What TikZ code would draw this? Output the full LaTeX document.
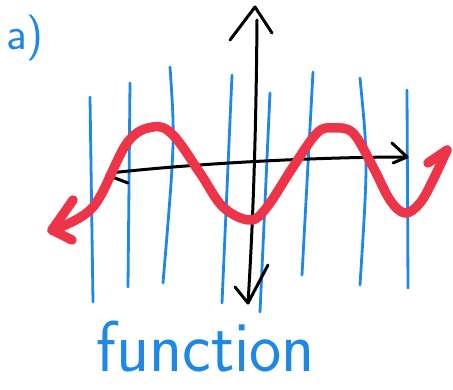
\documentclass[tikz,border=0pt]{standalone}
\usepackage{xcolor}
\usepackage{tikz}
\definecolor{penblue}{RGB}{30,136,229}
\definecolor{penred}{RGB}{238,52,72}

\begin{document}
\begin{tikzpicture}[x=1pt, y=-1pt, line cap=round, line join=round]
    \tikzstyle{gridline} = [draw=penblue, line width=2.8pt]
    \tikzstyle{axisline} = [draw=black, line width=3pt]
    \tikzstyle{wave} = [draw=penred, line width=9.5pt]
    \tikzstyle{handtext} = [text=penblue, font=\sffamily, inner sep=0pt]

    \useasboundingbox (0,0) rectangle (453,390);

    % label and caption
    \node (tag)     [handtext, font=\sffamily\fontsize{46}{46}\selectfont] at (25,38) {a)};
    \node (caption) [handtext, font=\sffamily\fontsize{72}{72}\selectfont, xscale=0.95, anchor=base] at (206,372) {function};

    % blue vertical lines
    \draw [gridline] (90,97) -- (93,302);
    \draw [gridline] (130,83) -- (128,287);
    \draw [gridline] (170,67) .. controls (175,140) .. (163,283);
    \draw [gridline] (232,75) -- (222,303);
    \draw [gridline] (270,93) -- (260,312);
    \draw [gridline] (313,72) -- (302,275);
    \draw [gridline] (360,78) .. controls (368,160) .. (360,285);
    \draw [gridline] (407,90) -- (408,288);

    % axes
    \draw [axisline] (110,173) .. controls (200,163) and (320,157) .. (407,157);
    \draw [axisline] (117,160) -- (107,175) -- (128,183);
    \draw [axisline] (392,143) -- (407,157) -- (393,163);
    \draw [axisline] (257,20) .. controls (256,150) and (252,240) .. (248,303);
    \draw [axisline] (230,40) -- (255,7) -- (272,33);
    \draw [axisline] (235,287) -- (248,303) -- (268,265);

    % red function
    \draw [wave] plot[smooth, tension=0.6] coordinates {(52,230) (93,207) (127,143) (153,127) (173,135) (200,173) (223,207) (250,220) (267,207) (293,167) (317,133) (333,128) (353,133) (373,167) (390,200) (405,213) (420,203) (433,180) (447,150)};
    \draw [wave] (73,200) -- (52,230) -- (72,240);
    \draw [wave] (428,163) -- (447,150);
\end{tikzpicture}
\end{document}
